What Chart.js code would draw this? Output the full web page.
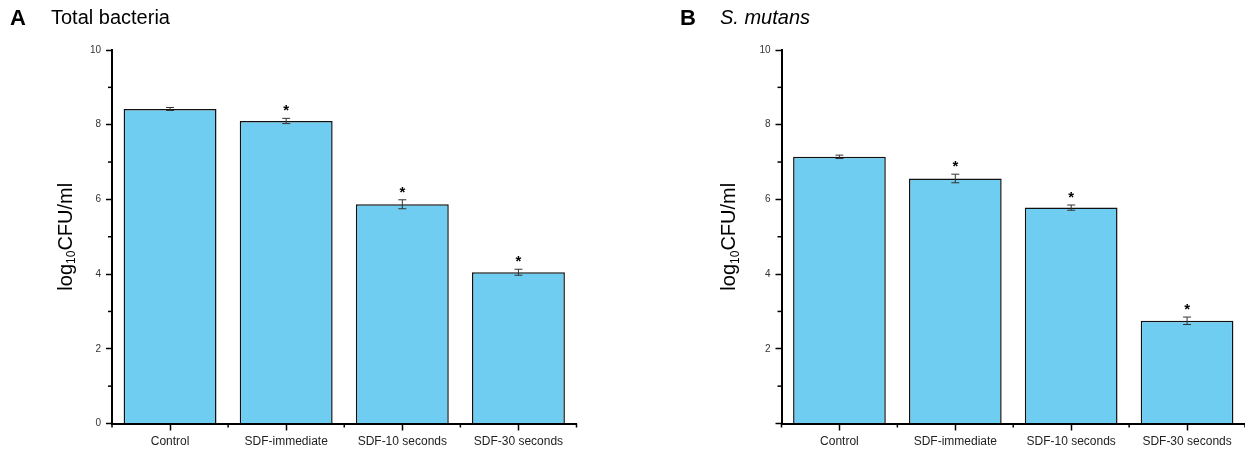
<!DOCTYPE html>
<html>
<head>
<meta charset="utf-8">
<script src="https://cdn.jsdelivr.net/npm/chart.js@4"></script>
<style>
  html, body { margin: 0; padding: 0; background: #fff; }
  #wrap { position: relative; width: 1245px; height: 452px; }
  .panel { position: absolute; top: 0; height: 452px; }
  #panelA { left: 0; width: 622px; }
  #panelB { left: 622px; width: 623px; }
</style>
</head>
<body>
<div id="wrap">
  <div class="panel" id="panelA"><canvas id="chartA"></canvas></div>
  <div class="panel" id="panelB"><canvas id="chartB"></canvas></div>
</div>
<script>
// données
const categories = ["Control", "SDF-immediate", "SDF-10 seconds", "SDF-30 seconds"];

const totalBacteriaMeans = [8.42, 8.10, 5.87, 4.05];
const totalBacteriaErrors = [0.04, 0.07, 0.12, 0.08];
const totalBacteriaStars = [false, true, true, true];

const mutansMeans = [7.14, 6.56, 5.78, 2.75];
const mutansErrors = [0.045, 0.115, 0.07, 0.10];
const mutansStars = [false, true, true, true];

const yMajorTicks = [0, 2, 4, 6, 8, 10];
const yMinorTicks = [1, 3, 5, 7, 9];

const police = '"Liberation Sans", Arial, Helvetica, sans-serif';
const couleurBarre = "#6fcdf1";

function trait(ctx, x1, y1, x2, y2) {
  ctx.beginPath();
  ctx.moveTo(x1, y1);
  ctx.lineTo(x2, y2);
  ctx.stroke();
}

// ticks mineurs, barres d'erreur, étoiles, titres
const decorPlugin = {
  id: "decor",
  afterDraw(chart, args, opts) {
    const ctx = chart.ctx;
    const area = chart.chartArea;
    const sx = chart.scales.x;
    const sy = chart.scales.y;
    ctx.save();

    ctx.strokeStyle = "#000";
    ctx.lineWidth = 1.5;
    for (const v of yMinorTicks) {
      const py = sy.getPixelForValue(v);
      trait(ctx, area.left - 4, py, area.left, py);
    }
    for (let i = 0; i <= categories.length; i++) {
      const px = sx.getPixelForValue(i - 0.5);
      trait(ctx, px, area.bottom, px, area.bottom + 4);
    }

    const meta = chart.getDatasetMeta(0);
    meta.data.forEach((bar, i) => {
      const haut = sy.getPixelForValue(opts.means[i] + opts.errors[i]);
      const bas = sy.getPixelForValue(opts.means[i] - opts.errors[i]);
      ctx.strokeStyle = "#333";
      ctx.lineWidth = 1;
      trait(ctx, bar.x, haut, bar.x, bas);
      trait(ctx, bar.x - 4, haut, bar.x + 4, haut);
      trait(ctx, bar.x - 4, bas, bar.x + 4, bas);
      if (opts.stars[i]) {
        ctx.fillStyle = "#000";
        ctx.font = "bold 15px " + police;
        ctx.textAlign = "center";
        ctx.textBaseline = "alphabetic";
        ctx.fillText("*", bar.x, haut - 3);
      }
    });

    // titre de l'axe y avec indice
    const cx = area.left - opts.titleOffset;
    const cy = (area.top + area.bottom) / 2;
    ctx.translate(cx, cy);
    ctx.rotate(-Math.PI / 2);
    ctx.fillStyle = "#000";
    ctx.textAlign = "left";
    ctx.textBaseline = "middle";
    const grand = "20px " + police;
    const petit = "12px " + police;
    ctx.font = grand;
    const w1 = ctx.measureText("log").width;
    const w3 = ctx.measureText("CFU/ml").width;
    ctx.font = petit;
    const w2 = ctx.measureText("10").width;
    let px = -(w1 + w2 + w3) / 2;
    ctx.font = grand;
    ctx.fillText("log", px, 0);
    px += w1;
    ctx.font = petit;
    ctx.fillText("10", px, 6);
    px += w2;
    ctx.font = grand;
    ctx.fillText("CFU/ml", px, 0);
    ctx.setTransform(1, 0, 0, 1, 0, 0);

    // lettre et titre du panneau
    ctx.textBaseline = "alphabetic";
    ctx.font = "bold 22px " + police;
    ctx.fillText(opts.letter, opts.letterX, 25);
    ctx.font = (opts.italic ? "italic " : "") + "20px " + police;
    ctx.fillText(opts.title, opts.titleX, 24);

    ctx.restore();
  },
};

function creerPanneau(idCanvas, means, errors, stars, reglages) {
  const configuration = {
    type: "bar",
    data: {
      labels: categories,
      datasets: [
        {
          data: means,
          backgroundColor: couleurBarre,
          borderColor: "#111",
          borderWidth: 1.5,
          barPercentage: 0.8,
          categoryPercentage: 1.0,
        },
      ],
    },
    options: {
      responsive: true,
      maintainAspectRatio: false,
      animation: false,
      layout: {
        padding: { left: 0, right: reglages.padRight, top: 50, bottom: 0 },
      },
      plugins: {
        legend: { display: false },
        tooltip: { enabled: false },
        decor: {
          means: means,
          errors: errors,
          stars: stars,
          titleOffset: reglages.titleOffset,
          letter: reglages.letter,
          letterX: reglages.letterX,
          title: reglages.title,
          titleX: reglages.titleX,
          italic: reglages.italic,
        },
      },
      scales: {
        x: {
          afterFit: (scale) => { scale.height = 28.5; },
          grid: {
            offset: false,
            drawOnChartArea: false,
            drawTicks: true,
            tickLength: 7,
            tickWidth: 1.5,
            tickColor: "#000",
          },
          border: { display: true, color: "#000", width: 2 },
          ticks: {
            color: "#222",
            padding: 4,
            font: { family: police, size: 12 },
            maxRotation: 0,
            autoSkip: false,
          },
        },
        y: {
          min: 0,
          max: 10,
          afterFit: (scale) => { scale.width = reglages.yWidth; },
          afterBuildTicks: (scale) => {
            scale.ticks = yMajorTicks.map((v) => ({ value: v }));
          },
          grid: {
            drawOnChartArea: false,
            drawTicks: true,
            tickLength: 6,
            tickWidth: 1.5,
            tickColor: "#000",
          },
          border: { display: true, color: "#000", width: 2 },
          ticks: {
            color: "#333",
            padding: 5,
            font: { family: police, size: 10 },
            callback: (v) => (v === 0 && reglages.hideZero ? "" : v),
          },
        },
      },
    },
    plugins: [decorPlugin],
  };
  return new Chart(document.getElementById(idCanvas), configuration);
}

creerPanneau("chartA", totalBacteriaMeans, totalBacteriaErrors, totalBacteriaStars, {
  padRight: 45.5,
  yWidth: 112,
  titleOffset: 46,
  letter: "A",
  letterX: 10,
  title: "Total bacteria",
  titleX: 51,
  italic: false,
  hideZero: false,
});

creerPanneau("chartB", mutansMeans, mutansErrors, mutansStars, {
  padRight: 0,
  yWidth: 159.5,
  titleOffset: 52,
  letter: "B",
  letterX: 58,
  title: "S. mutans",
  titleX: 98,
  italic: true,
  hideZero: true,
});
</script>
</body>
</html>
